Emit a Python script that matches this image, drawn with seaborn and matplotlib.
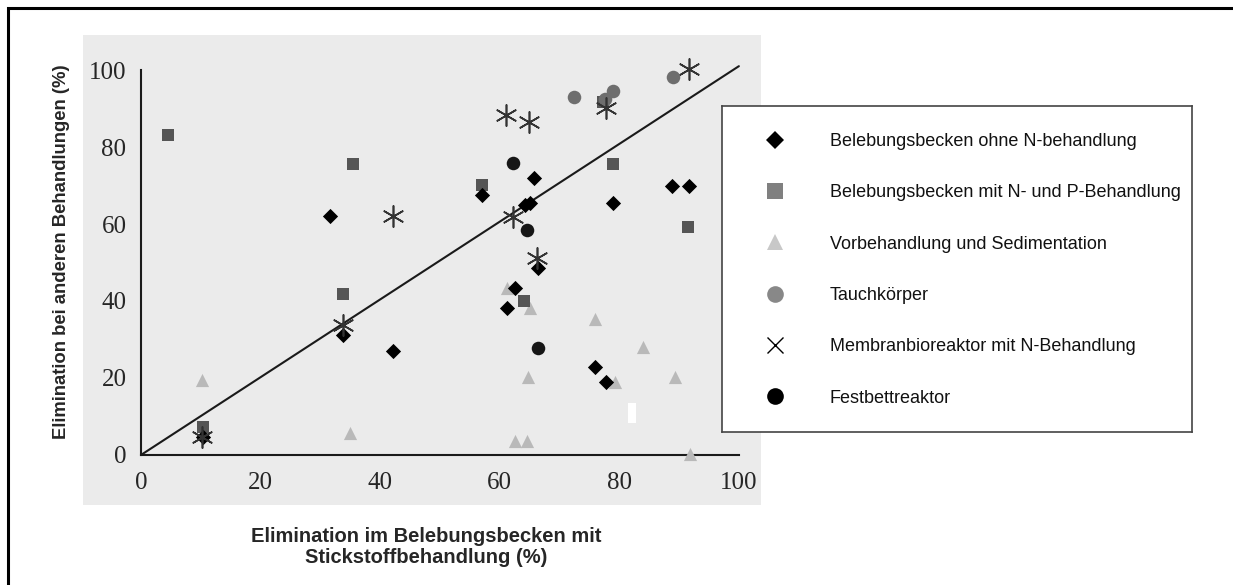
import numpy as np
import pandas as pd
import matplotlib
matplotlib.use("Agg")
import matplotlib.pyplot as plt
from matplotlib.lines import Line2D
from matplotlib.patches import Rectangle
import seaborn as sns

# Werte (%)
ohne_n_x = [10.4, 31.6, 33.8, 42.1, 57.0, 61.2, 62.5, 64.2, 65.1, 65.7, 66.4, 75.9, 77.8, 78.9, 88.8, 91.6]
ohne_n_y = [4.7, 62.0, 31.2, 27.0, 67.5, 38.2, 43.4, 64.9, 65.5, 72.0, 48.6, 22.9, 19.0, 65.5, 70.0, 70.0]

np_x = [4.5, 10.4, 33.8, 35.5, 57.0, 64.0, 77.3, 78.9, 91.5]
np_y = [83.1, 7.3, 41.8, 75.6, 70.1, 40.0, 91.8, 75.6, 59.2]

sed_x = [10.2, 35.0, 61.2, 62.5, 64.5, 64.7, 65.1, 75.9, 79.3, 83.9, 89.3, 91.8]
sed_y = [19.5, 5.7, 43.4, 3.6, 3.6, 20.3, 38.2, 35.3, 19.0, 28.1, 20.3, 0.3]

tauch_x = [72.4, 77.6, 78.9, 89.0]
tauch_y = [93.0, 92.5, 94.5, 98.2]

mbr_x = [10.2, 33.8, 42.1, 61.0, 62.2, 64.9, 66.2, 77.8, 91.6]
mbr_y = [4.7, 33.8, 62.1, 88.3, 61.8, 86.5, 51.2, 90.1, 100.3]

festbett_x = [62.2, 64.5, 66.4]
festbett_y = [75.8, 58.4, 27.8]

linie_x = [0, 100]
linie_y = [0, 101]

labels = ["Belebungsbecken ohne N-behandlung",
          "Belebungsbecken mit N- und P-Behandlung",
          "Vorbehandlung und Sedimentation",
          "Tauchkörper",
          "Membranbioreaktor mit N-Behandlung",
          "Festbettreaktor"]

sns.set_style("white")
plt.rcParams['font.family'] = ['Liberation Sans', 'DejaVu Sans']

W, H = 1233, 585
fig = plt.figure(figsize=(W / 100, H / 100), dpi=100)

# Rahmen um die ganze Abbildung
fig.patches.append(Rectangle((8 / W, -0.05), 1.2, 1.05 - 8 / H, transform=fig.transFigure,
                             fill=False, edgecolor='black', lw=2.2, zorder=0))

ax = fig.add_axes([83 / W, 80 / H, 678 / W, 470 / H])
ax.set_facecolor('#ebebeb')

ax.plot(linie_x, linie_y, color='#1a1a1a', lw=1.5, zorder=2)

sns.scatterplot(x=sed_x, y=sed_y, marker='^', s=90, color='#b9b9b9', linewidth=0, ax=ax, zorder=3)
sns.scatterplot(x=np_x, y=np_y, marker='s', s=75, color='#555555', linewidth=0, ax=ax, zorder=4)
sns.scatterplot(x=tauch_x, y=tauch_y, marker='o', s=95, color='#6e6e6e', linewidth=0, ax=ax, zorder=4)
sns.scatterplot(x=festbett_x, y=festbett_y, marker='o', s=95, color='#161616', linewidth=0, ax=ax, zorder=4)
sns.scatterplot(x=ohne_n_x, y=ohne_n_y, marker='D', s=60, color='black', linewidth=0, ax=ax, zorder=5)
sns.scatterplot(x=mbr_x, y=mbr_y, marker=(6, 2, 0), s=230, color='#333333', edgecolor='#333333',
                linewidth=1.2, ax=ax, zorder=6)

ax.set_xlim(-9.7, 103.7)
ax.set_ylim(-13.0, 109.1)
ax.set_xticks([0, 20, 40, 60, 80, 100])
ax.set_yticks([0, 20, 40, 60, 80, 100])
for side in ['top', 'right']:
    ax.spines[side].set_visible(False)
for side in ['left', 'bottom']:
    ax.spines[side].set_position(('data', 0))
    ax.spines[side].set_bounds(0, 100)
    ax.spines[side].set_linewidth(1.5)
    ax.spines[side].set_color('#1a1a1a')
ax.tick_params(direction='out', length=6, width=1.5, color='#1a1a1a', labelsize=18)
ax.tick_params(axis='x', pad=6)
ax.tick_params(axis='y', pad=4.5)
for t in ax.get_xticklabels() + ax.get_yticklabels():
    t.set_family('Liberation Serif')
ax.set_xlabel('')
ax.set_ylabel('')

# kleiner weisser Fleck aus der Vorlage
fig.patches.append(Rectangle((628 / W, 1 - 423 / H), 8 / W, 20 / H, transform=fig.transFigure,
                             facecolor='white', edgecolor='none', zorder=5))

fig.text(62 / W, 1 - 252 / H, 'Elimination bei anderen Behandlungen (%)', rotation=90,
         ha='center', va='center', fontsize=13.3, fontweight='bold')
fig.text(426 / W, 1 - 547 / H, 'Elimination im Belebungsbecken mit\nStickstoffbehandlung (%)',
         ha='center', va='center', fontsize=14.5, fontweight='bold', linespacing=1.15)

# Legende in eigenem Kasten
lax = fig.add_axes([722 / W, 153 / H, 470 / W, 326 / H])
lax.set_facecolor('white')
lax.set_xticks([])
lax.set_yticks([])
for sp in lax.spines.values():
    sp.set_color('#444444')
    sp.set_linewidth(1.2)

handles = [
    Line2D([], [], ls='none', marker='D', markersize=9, color='black', mew=0),
    Line2D([], [], ls='none', marker='s', markersize=11, color='#808080', mew=0),
    Line2D([], [], ls='none', marker='^', markersize=11, color='#c8c8c8', mew=0),
    Line2D([], [], ls='none', marker='o', markersize=12, color='#888888', mew=0),
    Line2D([], [], ls='none', marker='x', markersize=12, color='black', mew=1.0),
    Line2D([], [], ls='none', marker='o', markersize=12, color='black', mew=0),
]
lax.legend(handles, labels, loc='upper left', bbox_to_anchor=(0.049, 0.917), frameon=False,
           borderpad=0, borderaxespad=0, fontsize=13, labelspacing=1.9,
           handlelength=3.3, handletextpad=1.38, labelcolor='#111111')

fig.savefig('out.png', dpi=100)
